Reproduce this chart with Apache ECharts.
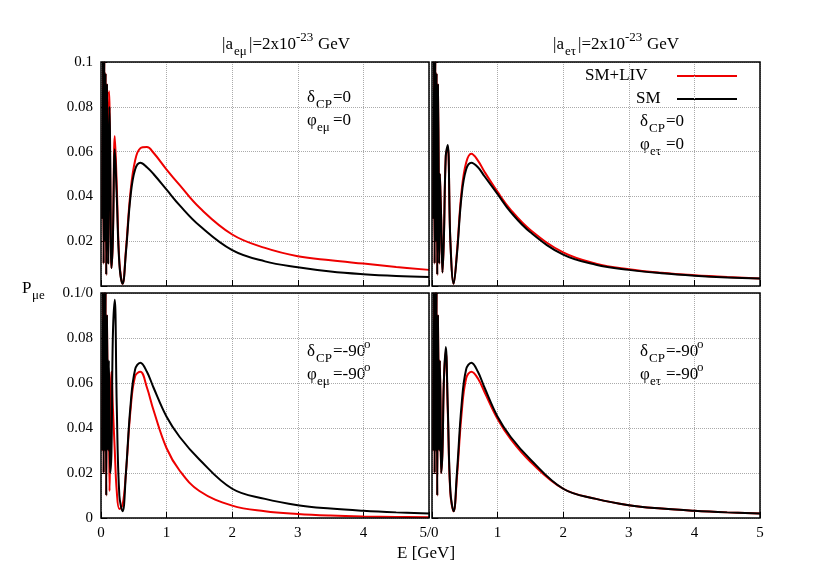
<!DOCTYPE html>
<html>
<head>
<meta charset="UTF-8">
<script src="https://cdn.jsdelivr.net/npm/echarts@6/dist/echarts.min.js"></script>
</head>
<body style="margin:0">
<div id="main" style="width:830px;height:581px;"></div>
<script>
// energies (GeV) and probabilities for each panel
const eLow = [0.02,0.03,0.04,0.05,0.06,0.07,0.08,0.09,0.1,0.11,0.12,0.13,0.14,0.16,0.18,0.21,0.24,0.28,0.33,0.38,0.45,0.52,0.6,0.7,0.8,1,1.2,1.5,2,2.5,3,3.5,4,4.5,5];
const tlSM  = [0.03,0.1,0.01,0.1,0.02,0.095,0.005,0.09,0.06,0.01,0.05,0.08,0.06,0.008,0.02,0.061,0.04,0.01,0.001,0.015,0.04,0.052,0.055,0.053,0.050,0.043,0.036,0.027,0.016,0.011,0.0084,0.0065,0.0053,0.0045,0.004];
const tlLIV = [0.03,0.1,0.01,0.1,0.02,0.095,0.005,0.09,0.06,0.01,0.087,0.08,0.05,0.008,0.02,0.067,0.045,0.011,0.001,0.016,0.042,0.056,0.0615,0.062,0.0595,0.052,0.045,0.035,0.023,0.017,0.0133,0.0115,0.0100,0.0085,0.0072];
const trSM  = [0.03,0.1,0.01,0.1,0.02,0.095,0.005,0.09,0.06,0.01,0.05,0.04,0.03,0.006,0.02,0.058,0.063,0.02,0.001,0.014,0.04,0.052,0.055,0.053,0.049,0.041,0.033,0.024,0.014,0.0095,0.0072,0.0057,0.0046,0.0038,0.0033];
const trLIV = [0.03,0.1,0.01,0.1,0.02,0.095,0.005,0.09,0.06,0.01,0.05,0.04,0.03,0.006,0.02,0.058,0.062,0.02,0.001,0.015,0.042,0.055,0.059,0.056,0.051,0.042,0.034,0.025,0.015,0.01,0.0075,0.0059,0.0048,0.004,0.0034];
const blSM  = [0.03,0.1,0.02,0.1,0.03,0.1,0.01,0.09,0.06,0.03,0.07,0.05,0.02,0.03,0.08,0.097,0.05,0.01,0.003,0.02,0.05,0.066,0.069,0.065,0.058,0.045,0.036,0.026,0.013,0.0085,0.0057,0.0042,0.0032,0.0025,0.002];
const blLIV = [0.03,0.1,0.02,0.1,0.03,0.1,0.01,0.09,0.06,0.03,0.05,0.012,0.03,0.065,0.05,0.03,0.012,0.004,0.006,0.02,0.048,0.063,0.065,0.058,0.048,0.031,0.021,0.012,0.0055,0.003,0.0018,0.0011,0.0007,0.0005,0.0003];
const brSM  = [0.03,0.1,0.02,0.1,0.03,0.1,0.01,0.09,0.06,0.03,0.07,0.05,0.02,0.03,0.06,0.076,0.05,0.012,0.003,0.02,0.05,0.066,0.069,0.065,0.058,0.045,0.036,0.026,0.013,0.0085,0.0057,0.0042,0.0032,0.0025,0.002];
const brLIV = [0.03,0.1,0.02,0.1,0.03,0.1,0.01,0.09,0.06,0.03,0.07,0.05,0.02,0.03,0.06,0.074,0.048,0.011,0.003,0.018,0.046,0.062,0.065,0.062,0.056,0.044,0.035,0.025,0.013,0.0085,0.0057,0.0042,0.0032,0.0025,0.002];

const font = 'Liberation Serif';
const grids = [
  {left:101, top:62, width:328, height:224},
  {left:432, top:62, width:328, height:224},
  {left:101, top:293, width:328, height:225},
  {left:432, top:293, width:328, height:225}
];
const panels = [[tlSM,tlLIV],[trSM,trLIV],[blSM,blLIV],[brSM,brLIV]];

function pairs(ys){ return eLow.map((e,i)=>[e,ys[i]]); }

const xAxis = grids.map((g,i)=>({
  gridIndex:i, type:'value', min:0, max:5, interval:1,
  axisLine:{show:false}, axisTick:{show:true, inside:true, length:6, lineStyle:{color:'#000'}},
  axisLabel:{show:i>=2, color:'#000', fontFamily:font, fontSize:15,
    formatter:v=> (i===2 && v===5) ? '5/0' : (i===3 && v===0 ? '' : String(v))},
  splitLine:{show:true, lineStyle:{type:'dotted', color:'#aaa'}}
}));
const yAxis = grids.map((g,i)=>({
  gridIndex:i, type:'value', min:0, max:0.1, interval:0.02,
  axisLine:{show:false}, axisTick:{show:true, inside:true, length:6, lineStyle:{color:'#000'}},
  axisLabel:{show:i%2===0, color:'#000', fontFamily:font, fontSize:15,
    formatter:v=> {
      if (i===0 && v===0) return '';
      if (i===2 && v>=0.1) return '0.1/0';
      if (v===0) return '0';
      return +v.toFixed(2)+'';
    }},
  splitLine:{show:true, lineStyle:{type:'dotted', color:'#aaa'}}
}));
const series = [];
panels.forEach((p,i)=>{
  series.push({type:'line', xAxisIndex:i, yAxisIndex:i, data:pairs(p[1]), smooth:0.4, symbol:'none', name:'SM+LIV', lineStyle:{color:'#e00', width:2}});
  series.push({type:'line', xAxisIndex:i, yAxisIndex:i, data:pairs(p[0]), smooth:0.4, symbol:'none', name:'SM', lineStyle:{color:'#000', width:2}});
});

function txt(x,y,s,size){ return {type:'text', left:x, top:y, style:{text:s, font:(size||17)+'px '+font, fill:'#000'}}; }
const graphic = [];
grids.forEach(g=>graphic.push({type:'rect', shape:{x:g.left,y:g.top,width:g.width,height:g.height}, style:{fill:'none', stroke:'#000', lineWidth:1.5}, z:10}));
// titles
graphic.push(txt(222,36,'|a'), txt(234,45,'eμ',13), txt(249,36,'|=2x10'), txt(296,31,'-23',13), txt(318,36,'GeV'));
graphic.push(txt(553,36,'|a'), txt(565,45,'eτ',13), txt(578,36,'|=2x10'), txt(625,31,'-23',13), txt(647,36,'GeV'));
// axis names
graphic.push(txt(22,280,'P'), txt(32,289,'μe',13), txt(397,545,'E [GeV]'));
// annotations
graphic.push(txt(307,89,'δ'), txt(316,98,'CP',13), txt(333,89,'=0'));
graphic.push(txt(307,112,'φ'), txt(317,121,'eμ',13), txt(333,112,'=0'));
graphic.push(txt(640,113,'δ'), txt(649,122,'CP',13), txt(666,113,'=0'));
graphic.push(txt(640,136,'φ'), txt(650,145,'eτ',13), txt(666,136,'=0'));
graphic.push(txt(307,343,'δ'), txt(316,352,'CP',13), txt(333,343,'=-90'), txt(364,338,'o',13));
graphic.push(txt(307,366,'φ'), txt(317,375,'eμ',13), txt(333,366,'=-90'), txt(364,361,'o',13));
graphic.push(txt(640,343,'δ'), txt(649,352,'CP',13), txt(666,343,'=-90'), txt(697,338,'o',13));
graphic.push(txt(640,366,'φ'), txt(650,375,'eτ',13), txt(666,366,'=-90'), txt(697,361,'o',13));
// legend
graphic.push(txt(585,67,'SM+LIV'), {type:'line', shape:{x1:677,y1:76,x2:737,y2:76}, style:{stroke:'#e00', lineWidth:2}});
graphic.push(txt(636,90,'SM'), {type:'line', shape:{x1:677,y1:99,x2:737,y2:99}, style:{stroke:'#000', lineWidth:2}});

const chart = echarts.init(document.getElementById('main'));
chart.setOption({
  animation:false, backgroundColor:'#fff',
  grid:grids, xAxis:xAxis, yAxis:yAxis, series:series, graphic:graphic
});
</script>
</body>
</html>
